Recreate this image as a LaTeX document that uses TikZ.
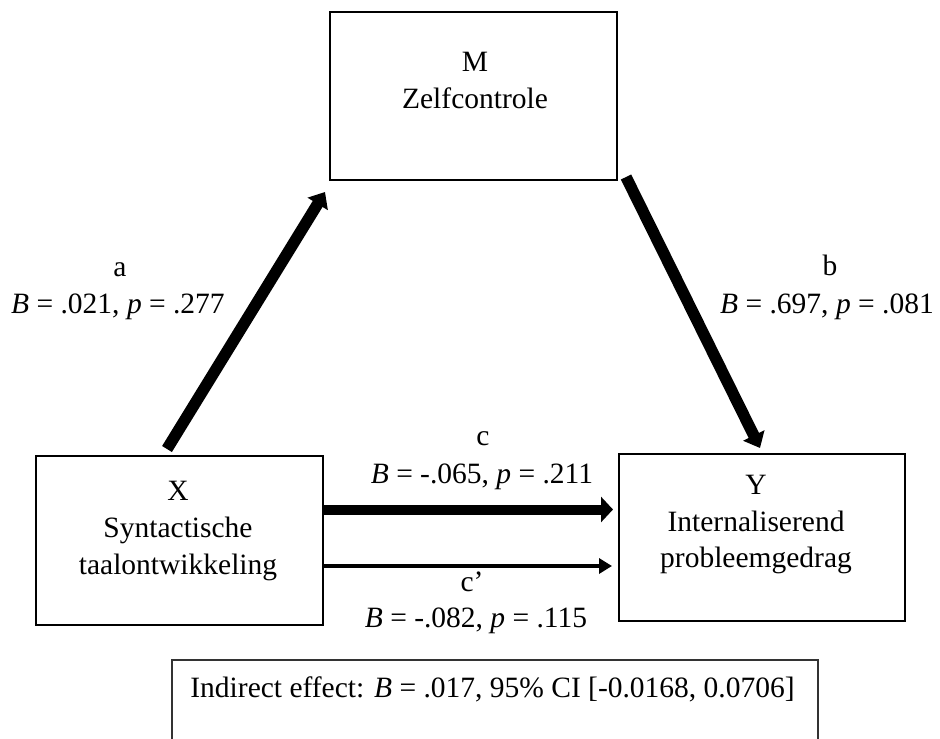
\documentclass[tikz,border=0pt]{standalone}
\usepackage{fontspec}
\setmainfont{Liberation Serif}
\usetikzlibrary{arrows.meta,calc}
\begin{document}
\begin{tikzpicture}[x=0.5pt,y=-0.5pt,
  box/.style={draw,line width=1pt,inner sep=0pt},
  indbox/.style={draw=black!80,line width=0.75pt,inner sep=0pt},
  txt/.style={anchor=base,inner sep=0pt,font=\fontsize{14.75pt}{18pt}\selectfont},
  slantarrow/.style={line width=5.75pt,-{Triangle[length=7pt,width=11.5pt]}},
  carrow/.style={line width=5pt,-{Triangle[length=6pt,width=12.5pt]}},
  cparrow/.style={line width=2.25pt,-{Triangle[length=6.5pt,width=7.5pt]}}]
\clip (0,0) rectangle (940,738);
\fill[white] (0,0) rectangle (940,738);
% boxes
\node[box,minimum width=143.5pt,minimum height=84pt] (M) at (473.5,96) {};
\node[box,minimum width=143.5pt,minimum height=84.5pt] (X) at (179.5,540.5) {};
\node[box,minimum width=143pt,minimum height=83.5pt] (Y) at (762,537.5) {};
\node[indbox,minimum width=323pt,minimum height=100pt] (ind) at (495,760) {};
% box texts
\node[txt] (Mt1) at (475,72) {M};
\node[txt] (Mt2) at (475,108) {Zelfcontrole};
\node[txt] (Xt1) at (178,500) {X};
\node[txt] (Xt2) at (178,537) {Syntactische};
\node[txt] (Xt3) at (178,574) {taalontwikkeling};
\node[txt] (Yt1) at (756,494) {Y};
\node[txt] (Yt2) at (756,531) {Internaliserend};
\node[txt] (Yt3) at (756,567) {probleemgedrag};
\node[txt,anchor=base west] (indt) at (190,697) {Indirect effect: \textit{B} = .017, 95\% CI [-0.0168, 0.0706]};
% arrows
\coordinate (aS) at ($(X.north)+(-12.5,-6)$);
\coordinate (aE) at ($(M.south west)+(-4,11)$);
\draw[slantarrow] (aS) -- (aE);
\coordinate (bS) at ($(M.south east)+(8,-4)$);
\coordinate (bE) at ($(Y.north)+(-2,-5)$);
\draw[slantarrow] (bS) -- (bE);
\coordinate (cS) at ($(X.east)+(0,-31)$);
\draw[carrow,shorten >=2.5pt] (cS) -- (cS -| Y.west);
\coordinate (cpS) at ($(X.east)+(0,25.5)$);
\draw[cparrow,shorten >=3pt] (cpS) -- (cpS -| Y.west);
% labels
\node[txt] (la1) at (120,276) {a};
\node[txt] (la2) at (118,313) {\textit{B} = .021, \textit{p} = .277};
\node[txt] (lb1) at (830,275) {b};
\node[txt] (lb2) at (827,313) {\textit{B} = .697, \textit{p} = .081};
\node[txt] (lc1) at (483,445) {c};
\node[txt] (lc2) at (482,483) {\textit{B} = -.065, \textit{p} = .211};
\node[txt] (lcp1) at (472,591) {c’};
\node[txt] (lcp2) at (476,627) {\textit{B} = -.082, \textit{p} = .115};
\end{tikzpicture}
\end{document}
